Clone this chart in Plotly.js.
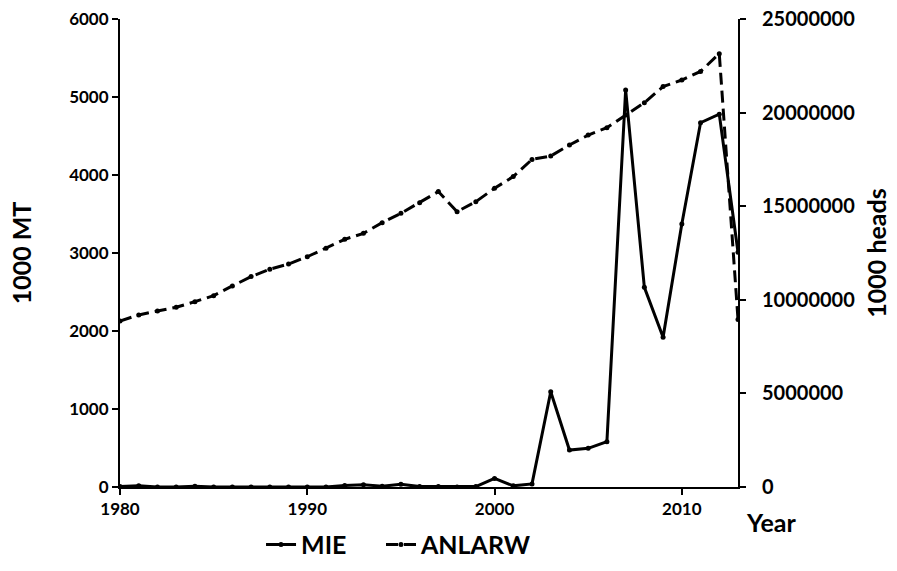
<!DOCTYPE html>
<html>
<head>
<meta charset="utf-8">
<script src="https://cdn.plot.ly/plotly-3.0.1.min.js"></script>
<style>html,body{margin:0;padding:0;background:#fff;}#chart{width:897px;height:571px;}</style>
</head>
<body>
<div id="chart"></div>
<script>
var years = [1980,1981,1982,1983,1984,1985,1986,1987,1988,1989,1990,1991,1992,1993,1994,1995,1996,1997,1998,1999,2000,2001,2002,2003,2004,2005,2006,2007,2008,2009,2010,2011,2012,2013];
var mie = [5,15,0,0,10,0,0,0,0,0,0,0,20,30,10,35,5,5,0,5,110,15,40,1222,474,496,581,5090,2560,1919,3372,4670,4780,3010];
var anlarw = [8870000,9190000,9400000,9600000,9900000,10220000,10740000,11240000,11630000,11910000,12300000,12750000,13230000,13550000,14120000,14620000,15190000,15780000,14710000,15240000,15960000,16580000,17500000,17680000,18270000,18800000,19190000,19870000,20530000,21390000,21740000,22200000,23150000,8950000];
var xTicks = [1980,1990,2000,2010];
var leftTicks = [0,1000,2000,3000,4000,5000,6000];
var rightTicks = [0,5000000,10000000,15000000,20000000,25000000];

var FONT = 'Lato, "Open Sans", sans-serif';
var traces = [
  {x: years, y: mie, name: 'MIE', type: 'scatter', mode: 'lines+markers', legend: 'legend',
   line: {color: '#000', width: 3}, marker: {color: '#000', size: 5}, yaxis: 'y'},
  {x: years, y: anlarw, name: 'ANLARW', type: 'scatter', mode: 'lines+markers', legend: 'legend2',
   line: {color: '#000', width: 3, dash: '12px,6px'}, marker: {color: '#000', size: 5}, yaxis: 'y2'}
];
var tickFont = {family: FONT, size: 17, color: '#000', weight: 'bold'};
var titleFont = {family: FONT, size: 25, color: '#000', weight: 'bold'};
var legendFont = {family: FONT, size: 25, color: '#000', weight: 'bold'};
var layout = {
  width: 897, height: 571,
  margin: {l: 120, r: 159, t: 19, b: 84},
  paper_bgcolor: '#fff', plot_bgcolor: '#fff',
  showlegend: true,
  legend: {orientation: 'h', x: 0.2282, xanchor: 'left', yref: 'container', y: 0.046, yanchor: 'middle', font: legendFont},
  legend2: {orientation: 'h', x: 0.4223, xanchor: 'left', yref: 'container', y: 0.046, yanchor: 'middle', font: legendFont},
  xaxis: {range: [1980, 2013], tickvals: xTicks, ticks: 'outside', ticklen: 6, tickwidth: 2,
          showline: true, linecolor: '#000', linewidth: 2, showgrid: false, zeroline: false,
          tickfont: tickFont, tickcolor: '#000'},
  yaxis: {range: [0, 6000], tickvals: leftTicks, ticks: 'outside', ticklen: 6, tickwidth: 2,
          showline: true, linecolor: '#000', linewidth: 2, showgrid: false, zeroline: false,
          tickfont: tickFont, tickcolor: '#000',
          title: {text: '1000 MT', font: titleFont, standoff: 30}},
  yaxis2: {range: [0, 25000000], tickvals: rightTicks, tickformat: 'd', overlaying: 'y', side: 'right',
          ticks: 'outside', ticklen: 6, tickwidth: 2, ticklabelstandoff: 12,
          showline: true, linecolor: '#000', linewidth: 2, showgrid: false, zeroline: false,
          tickfont: {family: FONT, size: 20, color: '#000', weight: 'bold'}, tickcolor: '#000',
          title: {text: '1000 heads', font: titleFont, standoff: 14}},
  annotations: [{text: 'Year', xref: 'paper', yref: 'paper', x: 1.053, y: -0.075, xanchor: 'center', yanchor: 'middle',
                 showarrow: false, font: titleFont}]
};
Plotly.newPlot('chart', traces, layout, {displayModeBar: false, staticPlot: true});
</script>
</body>
</html>
